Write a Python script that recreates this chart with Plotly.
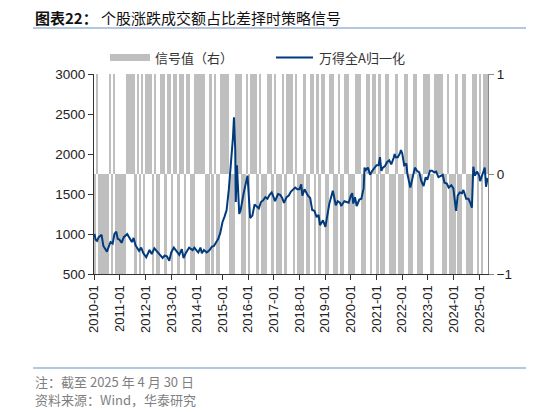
import pandas as pd
import plotly.graph_objects as go

# Monthly strategy signal, Jan 2010 - Apr 2025 (1 = long, -1 = short), one row per year.
signal_values = [
    -1, 1, -1, -1, -1, -1, -1, 1, -1, 1, -1, -1,   # 2010
    -1, -1, -1, 1, 1, 1, 1, -1, 1, -1, 1, -1,      # 2011
    1, 1, 1, -1, 1, -1, -1, 1, 1, -1, 1, 1,        # 2012
    -1, 1, 1, -1, 1, 1, -1, 1, 1, -1, -1, 1,       # 2013
    1, 1, 1, 1, -1, -1, 1, -1, 1, -1, -1, 1,       # 2014
    1, 1, 1, -1, -1, -1, 1, 1, 1, -1, -1, 1,       # 2015
    -1, 1, 1, 1, -1, 1, -1, -1, -1, 1, 1, -1,      # 2016
    1, -1, -1, -1, 1, -1, 1, 1, 1, -1, 1, -1,      # 2017
    -1, -1, 1, -1, -1, 1, 1, -1, 1, -1, 1, 1,      # 2018
    -1, -1, 1, 1, -1, -1, 1, -1, -1, 1, 1, -1,     # 2019
    -1, -1, 1, 1, 1, -1, -1, 1, 1, -1, 1, 1,       # 2020
    -1, 1, -1, -1, 1, 1, -1, -1, -1, 1, -1, -1,    # 2021
    -1, 1, 1, -1, -1, 1, 1, -1, -1, -1, 1, 1,      # 2022
    1, -1, -1, 1, 1, 1, 1, -1, -1, 1, -1, -1,      # 2023
    -1, 1, -1, -1, 1, 1, -1, -1, -1, 1, 1, -1,     # 2024
    1, -1, 1, 1,                                   # 2025
]
signal_months = pd.date_range("2010-01-01", periods=len(signal_values), freq="MS")

# Wind All A index, normalised to 1000 at the start of 2010
index_dates = [
    "2010-01-04", "2010-01-20", "2010-02-10", "2010-03-05", "2010-04-15", "2010-05-10",
    "2010-06-30", "2010-07-20", "2010-08-20", "2010-09-20", "2010-10-15", "2010-11-10",
    "2010-11-30", "2010-12-25", "2011-01-25", "2011-02-25", "2011-04-15", "2011-05-30",
    "2011-06-20", "2011-07-15", "2011-08-10", "2011-09-30", "2011-10-30", "2011-11-30",
    "2011-12-31", "2012-01-10", "2012-02-27", "2012-03-28", "2012-05-05", "2012-06-01",
    "2012-07-31", "2012-08-31", "2012-09-28", "2012-10-31", "2012-12-03", "2012-12-31",
    "2013-02-06", "2013-03-15", "2013-04-25", "2013-05-30", "2013-06-25", "2013-07-25",
    "2013-09-12", "2013-10-31", "2013-11-25", "2013-12-31", "2014-01-20", "2014-02-20",
    "2014-03-12", "2014-04-10", "2014-05-20", "2014-06-30", "2014-07-31", "2014-08-31",
    "2014-09-30", "2014-10-31", "2014-11-28", "2014-12-31", "2015-01-30", "2015-02-27",
    "2015-03-31", "2015-04-30", "2015-05-28", "2015-06-12", "2015-06-30", "2015-07-08",
    "2015-07-24", "2015-08-26", "2015-09-15", "2015-10-30", "2015-11-30", "2015-12-22",
    "2016-01-28", "2016-02-29", "2016-03-31", "2016-04-30", "2016-05-31", "2016-06-30",
    "2016-07-31", "2016-08-31", "2016-09-30", "2016-10-31", "2016-11-30", "2016-12-31",
    "2017-01-16", "2017-02-28", "2017-03-31", "2017-04-28", "2017-05-24", "2017-06-30",
    "2017-07-31", "2017-08-31", "2017-09-29", "2017-10-31", "2017-11-30", "2017-12-29",
    "2018-01-24", "2018-02-09", "2018-03-12", "2018-04-30", "2018-05-31", "2018-06-29",
    "2018-07-31", "2018-08-31", "2018-09-28", "2018-10-18", "2018-11-30", "2018-12-28",
    "2019-01-03", "2019-02-28", "2019-03-29", "2019-04-19", "2019-05-31", "2019-06-28",
    "2019-07-31", "2019-08-15", "2019-09-30", "2019-10-31", "2019-11-30", "2019-12-31",
    "2020-01-20", "2020-02-03", "2020-02-28", "2020-03-23", "2020-04-30", "2020-05-29",
    "2020-06-30", "2020-07-13", "2020-07-31", "2020-08-31", "2020-09-30", "2020-10-31",
    "2020-11-30", "2020-12-31", "2021-01-29", "2021-02-18", "2021-03-09", "2021-03-31",
    "2021-04-30", "2021-05-31", "2021-06-30", "2021-07-28", "2021-08-31", "2021-09-15",
    "2021-09-30", "2021-10-29", "2021-11-30", "2021-12-13", "2021-12-31", "2022-01-28",
    "2022-02-28", "2022-03-15", "2022-04-26", "2022-05-31", "2022-06-30", "2022-07-29",
    "2022-08-31", "2022-09-30", "2022-10-31", "2022-11-30", "2022-12-23", "2023-01-31",
    "2023-02-28", "2023-03-31", "2023-04-28", "2023-05-31", "2023-06-30", "2023-07-31",
    "2023-08-25", "2023-09-28", "2023-10-23", "2023-11-30", "2023-12-29", "2024-01-22",
    "2024-02-05", "2024-02-29", "2024-03-29", "2024-04-30", "2024-05-20", "2024-06-28",
    "2024-07-31", "2024-08-30", "2024-09-18", "2024-10-08", "2024-10-31", "2024-11-29",
    "2024-12-31", "2025-01-13", "2025-02-28", "2025-03-20", "2025-04-07", "2025-04-30",
]
index_values = [
    1000, 930, 915, 960, 990, 850,
    780, 840, 900, 880, 1000, 1030,
    940, 930, 890, 960, 1000, 930,
    900, 950, 860, 790, 830, 760,
    720, 710, 800, 750, 820, 790,
    730, 700, 730, 720, 665, 770,
    830, 780, 740, 810, 700, 760,
    830, 800, 830, 790, 770, 830,
    760, 800, 770, 800, 840, 850,
    900, 940, 1010, 1150, 1220, 1300,
    1560, 1880, 2200, 2460, 2050, 1400,
    1860, 1250, 1300, 1520, 1640, 1730,
    1200, 1230, 1370, 1340, 1320, 1400,
    1420, 1460, 1440, 1490, 1520, 1450,
    1410, 1500, 1490, 1450, 1390, 1460,
    1480, 1530, 1560, 1580, 1560, 1560,
    1620, 1480, 1560, 1480, 1450, 1300,
    1290, 1210, 1240, 1110, 1170, 1100,
    1090, 1380, 1480, 1540, 1360, 1410,
    1390, 1350, 1410, 1400, 1390, 1480,
    1510, 1380, 1460, 1350, 1430, 1440,
    1570, 1830, 1800, 1830, 1740, 1790,
    1820, 1860, 1860, 1960, 1790, 1830,
    1850, 1900, 1920, 1870, 1950, 2000,
    1960, 1960, 2010, 2050, 2010, 1860,
    1880, 1750, 1580, 1700, 1830, 1790,
    1770, 1660, 1600, 1710, 1680, 1790,
    1790, 1770, 1780, 1710, 1730, 1740,
    1640, 1630, 1580, 1610, 1570, 1380,
    1290, 1480, 1520, 1510, 1550, 1440,
    1440, 1380, 1330, 1840, 1730, 1780,
    1730, 1660, 1780, 1830, 1590, 1700,
]

title_bold = "图表22："
title_rest = "个股涨跌成交额占比差择时策略信号"
note_text = "注：截至 2025 年 4 月 30 日"
source_text = "资料来源：Wind，华泰研究"

BAR_GREY = "#bfbfbf"
LINE_BLUE = "#013b7e"
RULE_BLUE = "#6a8fc2"
CJK = "Noto Sans CJK SC"
LATIN = "Liberation Sans"

# the page puts the figure 8px in from the top-left corner, so work in
# window pixels and subtract that offset
OFF = 8
W, H = 534 - OFF, 412 - OFF
L, R, T, B = 94 - OFF, 488 - OFF, 74 - OFF, 274 - OFF


def px(x):
    return (x - OFF - L) / (R - L)


def py(y):
    return (B - (y - OFF)) / (B - T)


fig = go.Figure()

# signal bars on the primary axis (shown on the right) so the index line,
# on the overlaying axis, is drawn on top of them
fig.add_trace(go.Bar(
    x=signal_months + pd.Timedelta(days=15),
    y=signal_values,
    width=26 * 86400000,
    marker=dict(color=BAR_GREY, line=dict(width=0)),
    yaxis="y",
    name="信号值（右）",
    showlegend=False,
))

fig.add_trace(go.Scatter(
    x=pd.to_datetime(index_dates),
    y=index_values,
    mode="lines",
    line=dict(color=LINE_BLUE, width=2),
    yaxis="y2",
    name="万得全A归一化",
    showlegend=False,
))

fig.update_layout(
    width=W, height=H,
    margin=dict(l=L, r=W - R, t=T, b=H - B),
    paper_bgcolor="white",
    plot_bgcolor="white",
    font=dict(family=LATIN, size=13, color="#222222"),
    bargap=0,
    xaxis=dict(
        type="date",
        range=["2009-12-28", "2025-05-05"],
        tickformat="%Y-%m",
        dtick="M12",
        tick0="2010-01-01",
        tickangle=-90,
        ticks="outside",
        ticklen=5,
        tickcolor="#333333",
        showline=True,
        linecolor="#333333",
        linewidth=1,
        showgrid=False,
        zeroline=False,
        tickfont=dict(family=LATIN, size=13, color="#222222"),
    ),
    yaxis=dict(
        side="right",
        range=[-1, 1],
        tickvals=[-1, 0, 1],
        ticks="outside",
        ticklen=5,
        tickcolor="#888888",
        showline=True,
        linecolor="#888888",
        linewidth=1,
        showgrid=False,
        zeroline=False,
        tickfont=dict(family=LATIN, size=13.5, color="#222222"),
    ),
    yaxis2=dict(
        overlaying="y",
        side="left",
        range=[500, 3000],
        dtick=500,
        ticks="outside",
        ticklen=5,
        tickcolor="#333333",
        showline=True,
        linecolor="#333333",
        linewidth=1,
        showgrid=False,
        zeroline=False,
        tickfont=dict(family=LATIN, size=13.5, color="#222222"),
    ),
)

shapes = [
    # rule under the title
    dict(type="line", xref="paper", yref="paper", x0=px(33), x1=px(534), y0=py(28), y1=py(28),
         line=dict(color=RULE_BLUE, width=1.2)),
    # rule above the notes
    dict(type="line", xref="paper", yref="paper", x0=px(33), x1=px(534), y0=py(368), y1=py(368),
         line=dict(color=RULE_BLUE, width=1.2)),
    # legend keys
    dict(type="rect", xref="paper", yref="paper", x0=px(110), x1=px(150), y0=py(61), y1=py(54),
         fillcolor=BAR_GREY, line=dict(width=0)),
    dict(type="line", xref="paper", yref="paper", x0=px(276), x1=px(313), y0=py(57.5), y1=py(57.5),
         line=dict(color=LINE_BLUE, width=2)),
]

annotations = [
    dict(text="<b>" + title_bold + "</b> " + title_rest, x=px(33), y=py(17),
         font=dict(family=CJK, size=15, color="#111111")),
    dict(text="信号值（右）", x=px(153), y=py(57.5), font=dict(family=CJK, size=13, color="#333333")),
    dict(text="万得全A归一化", x=px(317), y=py(57.5), font=dict(family=CJK, size=13, color="#333333")),
    dict(text=note_text, x=px(33), y=py(381), font=dict(family=CJK, size=13, color="#7f7f7f")),
    dict(text=source_text, x=px(33), y=py(399), font=dict(family=CJK, size=13, color="#7f7f7f")),
]
for a in annotations:
    a.update(xref="paper", yref="paper", xanchor="left", yanchor="middle", showarrow=False)

fig.update_layout(shapes=shapes, annotations=annotations)

fig.write_html("out.html")
